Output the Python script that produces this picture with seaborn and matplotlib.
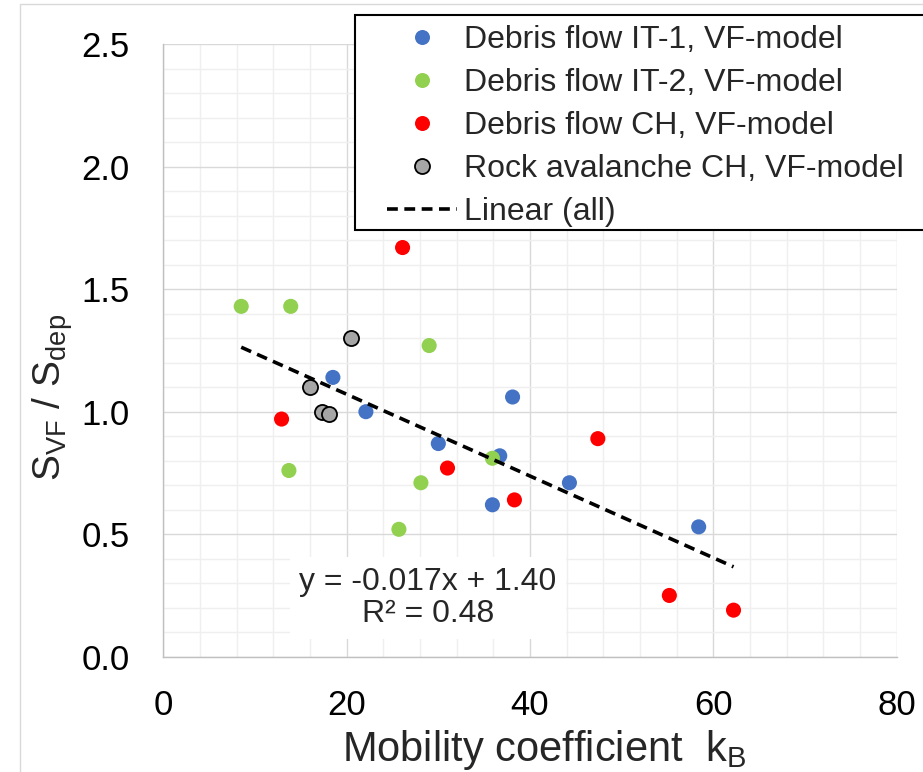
import numpy as np
import pandas as pd
import matplotlib
matplotlib.use("Agg")
import matplotlib.pyplot as plt
from matplotlib.lines import Line2D
from matplotlib.patches import Rectangle
from matplotlib.ticker import MultipleLocator
import seaborn as sns

# ---------------- data ----------------
it1_x = [18.5, 22.1, 30.0, 36.7, 35.9, 38.1, 44.3, 58.4]
it1_y = [1.14, 1.00, 0.87, 0.82, 0.62, 1.06, 0.71, 0.53]
it2_x = [8.5, 13.9, 29.0, 13.7, 28.1, 35.9, 25.7]
it2_y = [1.43, 1.43, 1.27, 0.76, 0.71, 0.81, 0.52]
ch_x = [26.1, 12.9, 31.0, 38.3, 47.4, 55.2, 62.2]
ch_y = [1.67, 0.97, 0.77, 0.64, 0.89, 0.25, 0.19]
rock_x = [20.5, 16.0, 17.3, 18.1]
rock_y = [1.30, 1.10, 1.00, 0.99]

series_names = ["Debris flow IT-1, VF-model", "Debris flow IT-2, VF-model",
                "Debris flow CH, VF-model", "Rock avalanche CH, VF-model"]
trend_label = "Linear (all)"
equation_text = "y = -0.017x + 1.40\nR² = 0.48"
x_ticks = [0, 20, 40, 60, 80]
y_ticks = [0.0, 0.5, 1.0, 1.5, 2.0, 2.5]

colors = ["#4472C4", "#92D050", "#FF0000", "#A6A6A6"]
edges = ["none", "none", "none", "black"]

# ---------------- style ----------------
sns.set_theme(style="white")
plt.rcParams["font.family"] = ["Liberation Sans", "DejaVu Sans"]
plt.rcParams["mathtext.fontset"] = "custom"
plt.rcParams["mathtext.rm"] = "Liberation Sans"
plt.rcParams["mathtext.it"] = "Liberation Sans:italic"
plt.rcParams["mathtext.bf"] = "Liberation Sans:bold"
plt.rcParams["lines.scale_dashes"] = True

W, H = 923, 772
fig = plt.figure(figsize=(W / 100, H / 100), dpi=100)
ax = fig.add_axes([163.3 / W, 1 - 656.7 / H, (896.7 - 163.3) / W, (656.7 - 44.2) / H])

groups = [(it1_x, it1_y), (it2_x, it2_y), (ch_x, ch_y), (rock_x, rock_y)]
for (gx, gy), c, e, name in zip(groups, colors, edges, series_names):
    df = pd.DataFrame({"x": gx, "y": gy})
    sns.scatterplot(data=df, x="x", y="y", color=c, edgecolor=e,
                    linewidth=1.3 if e != "none" else 0, s=118, ax=ax,
                    zorder=3, legend=False)

all_x = np.concatenate([it1_x, it2_x, ch_x, rock_x])
all_y = np.concatenate([it1_y, it2_y, ch_y, rock_y])
sns.regplot(x=all_x, y=all_y, scatter=False, ci=None, truncate=True, ax=ax,
            line_kws=dict(color="black", lw=2.6, zorder=4))
trend = ax.lines[-1]
trend.set_linestyle((0, (3.0, 1.8)))

ax.set_xlim(0, 80)
ax.set_ylim(0, 2.5)
ax.set_xticks(x_ticks)
ax.set_yticks(y_ticks)
ax.set_xticklabels([str(v) for v in x_ticks])
ax.set_yticklabels([f"{v:.1f}" for v in y_ticks])
ax.xaxis.set_minor_locator(MultipleLocator(4))
ax.yaxis.set_minor_locator(MultipleLocator(0.1))
ax.grid(which="major", color="#d9d9d9", lw=1.0, zorder=0)
ax.grid(which="minor", color="#efefef", lw=1.0, zorder=0)
ax.set_axisbelow(True)
ax.tick_params(axis="both", which="both", length=0, labelsize=25, colors="black")
ax.tick_params(axis="x", pad=23)
ax.tick_params(axis="y", pad=24)
for s in ["top", "right"]:
    ax.spines[s].set_visible(False)
for s in ["left", "bottom"]:
    ax.spines[s].set_color("#bfbfbf")
    ax.spines[s].set_linewidth(1.0)

ax.set_xlabel(r"Mobility coefficient  k$_{\mathrm{B}}$", fontsize=30, va="top")
ax.xaxis.set_label_coords(0.519, -0.116)
ax.set_ylabel(r"S$_{\mathrm{VF}}$ / S$_{\mathrm{dep}}$", fontsize=28)
ax.yaxis.set_label_coords(-0.120, 0.424)

# equation box
fig.text(428 / W, 1 - 598 / H, equation_text, ha="center", va="center",
         multialignment="center", fontsize=23, linespacing=1.12, zorder=5,
         bbox=dict(facecolor="white", edgecolor="none", pad=7))

# figure border
fig.patches.append(Rectangle((20 / W, -0.1), 1.2, 1 - 4 / H + 0.1,
                             transform=fig.transFigure, facecolor="none",
                             edgecolor="#d9d9d9", lw=1.0, zorder=0))
# legend frame
fig.patches.append(Rectangle((355 / W, 1 - 230 / H), 0.8, 215 / H,
                             transform=fig.transFigure, facecolor="white",
                             edgecolor="black", lw=1.5, zorder=6))

handles = [Line2D([], [], ls="none", marker="o", markersize=10.8,
                  markerfacecolor=c, markeredgecolor=(e if e != "none" else c),
                  markeredgewidth=(1.3 if e != "none" else 0))
           for c, e in zip(colors, edges)]
handles.append(Line2D([], [], color="black", lw=2.6, linestyle=(0, (3.0, 1.8))))
labels = series_names + [trend_label]
leg = fig.legend(handles, labels, loc="upper left",
                 bbox_to_anchor=(387 / W, 1 - 25 / H), frameon=False,
                 fontsize=23, borderpad=0, borderaxespad=0,
                 handlelength=2.2, handletextpad=0.2, labelspacing=0.41)
leg.set_zorder(7)

fig.savefig("out.png", dpi=100)
